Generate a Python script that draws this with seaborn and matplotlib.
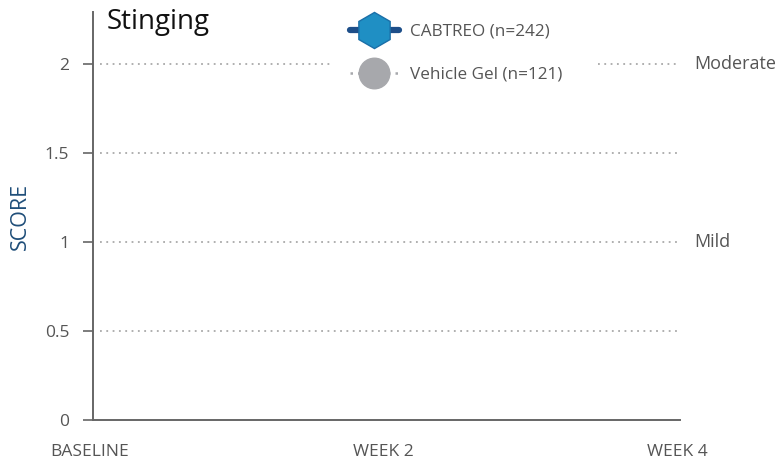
import numpy as np
import pandas as pd
import matplotlib
matplotlib.use("Agg")
import matplotlib.pyplot as plt
from matplotlib.lines import Line2D
import seaborn as sns

# Data
timepoints = ["BASELINE", "WEEK 2", "WEEK 4"]
week_pos = [0, 2, 4]
cabtreo_scores = [np.nan, np.nan, np.nan]   # no values plotted in the reference
vehicle_scores = [np.nan, np.nan, np.nan]
y_ticks = [0, 0.5, 1, 1.5, 2]
y_tick_labels = ["0", "0.5", "1", "1.5", "2"]
severity_levels = [2, 1]
severity_labels = ["Moderate", "Mild"]
series_labels = ["CABTREO (n=242)", "Vehicle Gel (n=121)"]

sns.set_theme(style="white")
plt.rcParams["font.family"] = ["Open Sans", "DejaVu Sans"]

fig = plt.figure(figsize=(7.83, 4.66), dpi=100)
ax = fig.add_axes([0.1188, 0.0987, 0.7497, 0.8755])

df = pd.DataFrame({
    "week": week_pos * 2,
    "score": cabtreo_scores + vehicle_scores,
    "group": [series_labels[0]] * 3 + [series_labels[1]] * 3,
})
df_valid = df.dropna()
if len(df_valid):
    sns.lineplot(data=df_valid, x="week", y="score", hue="group", ax=ax, legend=False)

ax.set_xlim(0.02, 4.02)
ax.set_ylim(0, 2.29)

grid_kw = dict(color="#a9a9a9", linestyle=(0, (1, 2.5)), linewidth=1.3, zorder=1)
for y in y_ticks[1:]:
    if y == 2:
        ax.axhline(y, xmin=0.012, xmax=0.409, **grid_kw)
        ax.axhline(y, xmin=0.860, xmax=1.0, **grid_kw)
    else:
        ax.axhline(y, xmin=0.012, xmax=1.0, **grid_kw)

ax.set_yticks(y_ticks)
ax.set_yticklabels(y_tick_labels, fontsize=12.5, color="#555555")
ax.set_xticks([])
for x, lab in zip(week_pos, timepoints):
    ax.text(x, -0.18, lab, transform=ax.transData, ha="center", va="center",
            fontsize=12.5, color="#555555", clip_on=False)

ax.tick_params(axis="y", which="both", left=True, length=7, width=1.2, color="#666666", pad=10)
for s in ["top", "right"]:
    ax.spines[s].set_visible(False)
for s in ["left", "bottom"]:
    ax.spines[s].set_color("#666666")
    ax.spines[s].set_linewidth(1.4)

ax.set_ylabel("SCORE", fontsize=15.5, color="#1f4e79", labelpad=10)

for y, lab in zip(severity_levels, severity_labels):
    ax.text(1.025, y, lab, transform=ax.get_yaxis_transform(), ha="left", va="center",
            fontsize=13, color="#555555", clip_on=False)

fig.text(107 / 783, 1 - 22 / 466, "Stinging", fontsize=20, color="#111111", ha="left", va="center")

handles = [
    Line2D([0], [0], color="#1d4e89", linewidth=4.5, marker="h", markersize=26,
           markerfacecolor="#1f8fc4", markeredgecolor="#1a6fa8", solid_capstyle="round"),
    Line2D([0], [0], color="#a7a8ac", linewidth=1.8, linestyle=(0, (1, 2)), marker="o", markersize=22,
           markerfacecolor="#a7a8ac", markeredgecolor="#a7a8ac"),
]
leg = ax.legend(handles, series_labels, loc="upper left", bbox_to_anchor=(341 / 783, 1 - 15 / 466),
                bbox_transform=fig.transFigure, frameon=False, fontsize=12.3, handlelength=2.9,
                labelspacing=1.6, borderpad=0.5, handletextpad=0.62, borderaxespad=0)
for t in leg.get_texts():
    t.set_color("#555555")

fig.savefig("out.png", dpi=100)
